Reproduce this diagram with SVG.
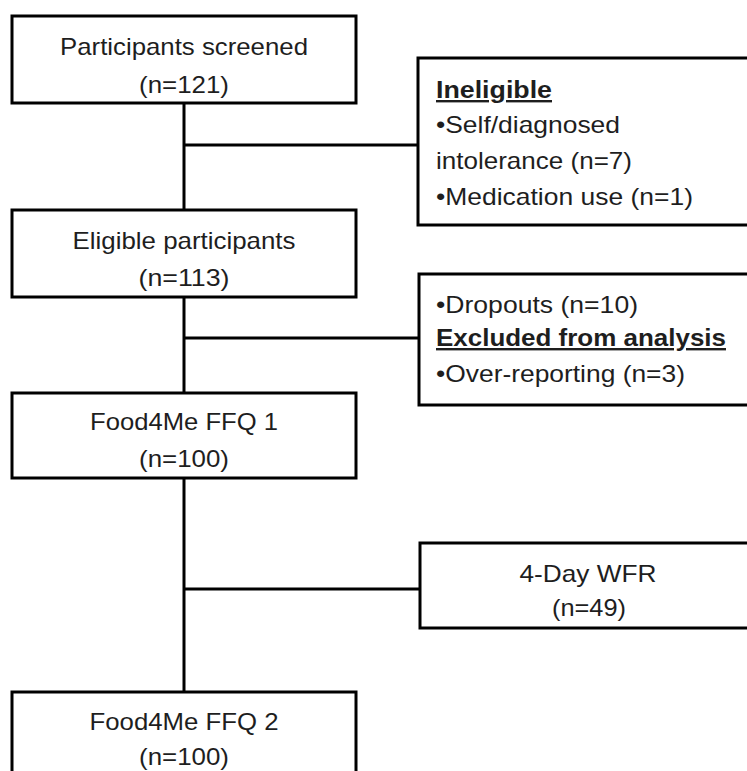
<svg xmlns="http://www.w3.org/2000/svg" width="747" height="771" viewBox="0 0 747 771">
<style>
.box{fill:#fff;stroke:#000;stroke-width:3}
.con{fill:none;stroke:#000;stroke-width:3}
text{font-family:"Liberation Sans",Arial,sans-serif;font-size:24px;fill:#1e1e1e}
.c{text-anchor:middle}
.b{font-weight:bold;text-decoration:underline}
</style>
<rect width="747" height="771" fill="#fff"/>
<g id="connectors">
<path class="con" d="M184 103V210M184 145H418M184 297V393M184 338H419M184 478V692M184 589H420"/>
</g>
<g id="screened">
<rect class="box" x="12" y="16" width="344" height="87"/>
<text class="c" x="184" y="55" textLength="248" lengthAdjust="spacingAndGlyphs">Participants screened</text>
<text class="c" x="184" y="93" textLength="90" lengthAdjust="spacingAndGlyphs">(n=121)</text>
</g>
<g id="ineligible">
<rect class="box" x="418" y="58" width="340" height="167"/>
<text class="b" x="436" y="98" textLength="116" lengthAdjust="spacingAndGlyphs">Ineligible</text>
<text x="436" y="133" textLength="184" lengthAdjust="spacingAndGlyphs">•Self/diagnosed</text>
<text x="436" y="169" textLength="196" lengthAdjust="spacingAndGlyphs">intolerance (n=7)</text>
<text x="436" y="205" textLength="257" lengthAdjust="spacingAndGlyphs">•Medication use (n=1)</text>
</g>
<g id="eligible">
<rect class="box" x="12" y="210" width="344" height="87"/>
<text class="c" x="184" y="249" textLength="223" lengthAdjust="spacingAndGlyphs">Eligible participants</text>
<text class="c" x="184" y="286" textLength="91" lengthAdjust="spacingAndGlyphs">(n=113)</text>
</g>
<g id="excluded">
<rect class="box" x="419" y="274" width="340" height="131"/>
<text x="436" y="313" textLength="202" lengthAdjust="spacingAndGlyphs">•Dropouts (n=10)</text>
<text class="b" x="436" y="346" textLength="290" lengthAdjust="spacingAndGlyphs">Excluded from analysis</text>
<text x="436" y="382" textLength="249" lengthAdjust="spacingAndGlyphs">•Over-reporting (n=3)</text>
</g>
<g id="ffq1">
<rect class="box" x="12" y="393" width="344" height="85"/>
<text class="c" x="184" y="430" textLength="188" lengthAdjust="spacingAndGlyphs">Food4Me FFQ 1</text>
<text class="c" x="184" y="467" textLength="90" lengthAdjust="spacingAndGlyphs">(n=100)</text>
</g>
<g id="wfr">
<rect class="box" x="420" y="543" width="340" height="85"/>
<text class="c" x="588" y="582" textLength="137" lengthAdjust="spacingAndGlyphs">4-Day WFR</text>
<text class="c" x="589" y="616" textLength="74" lengthAdjust="spacingAndGlyphs">(n=49)</text>
</g>
<g id="ffq2">
<rect class="box" x="12" y="692" width="344" height="90"/>
<text class="c" x="184" y="730" textLength="189" lengthAdjust="spacingAndGlyphs">Food4Me FFQ 2</text>
<text class="c" x="184" y="765" textLength="90" lengthAdjust="spacingAndGlyphs">(n=100)</text>
</g>
</svg>
